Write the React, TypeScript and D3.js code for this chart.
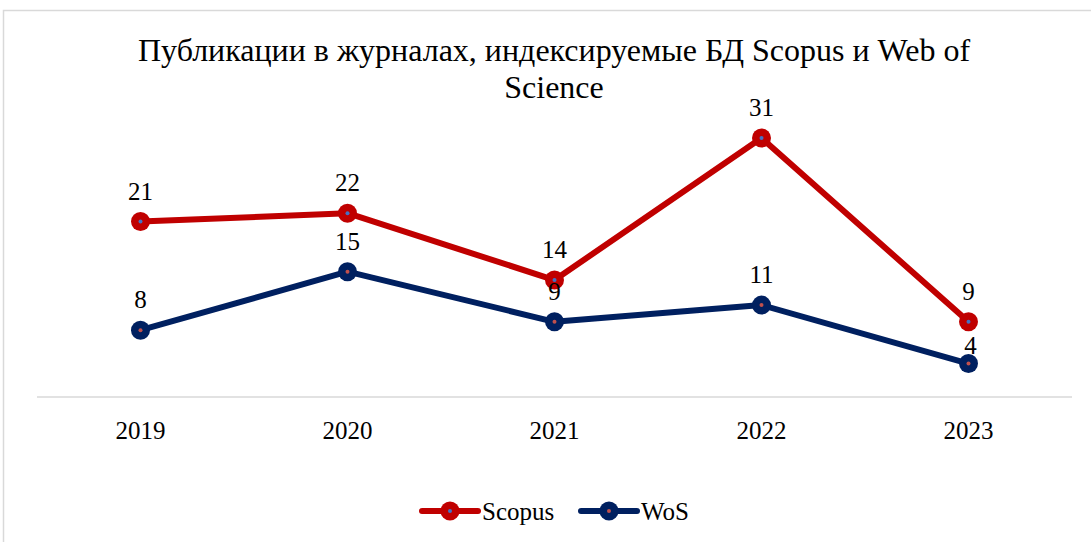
import * as d3 from "d3";

const years = ["2019", "2020", "2021", "2022", "2023"];
const scopus = [21, 22, 14, 31, 9];
const wos = [8, 15, 9, 11, 4];
const seriesNames = ["Scopus", "WoS"];

const W = 1091;
const H = 542;
const font = "Liberation Serif, Tinos, DejaVu Serif, serif";

export default function App() {
  const x = d3.scaleBand().domain(years).range([37, 1072]);
  const y = d3.scaleLinear().domain([0, 31]).range([397, 138]);
  const cx = (d: string) => (x(d) ?? 0) + x.bandwidth() / 2;

  const line = d3
    .line<number>()
    .x((_, i) => cx(years[i]))
    .y((d) => y(d));

  const series = [
    { name: seriesNames[0], values: scopus, color: "#c00000", dot: "#4472c4" },
    { name: seriesNames[1], values: wos, color: "#002060", dot: "#c0504d" },
  ];

  return (
    <svg
      width={W}
      height={H}
      style={{ position: "absolute", left: 0, top: 0, background: "#fff", fontFamily: font }}
    >
      <rect x={3.5} y={10.5} width={W + 10} height={H + 10} fill="#fff" stroke="#d9d9d9" strokeWidth={1.5} />
      <text x={554} y={61} textAnchor="middle" fontSize={32} fill="#000">
        Публикации в журналах, индексируемые БД Scopus и Web of
      </text>
      <text x={554} y={98} textAnchor="middle" fontSize={32} fill="#000">
        Science
      </text>

      <line x1={37} x2={1072} y1={397} y2={397} stroke="#d9d9d9" strokeWidth={1.5} />
      {years.map((yr) => (
        <text key={yr} x={cx(yr)} y={439} textAnchor="middle" fontSize={25} fill="#000">
          {yr}
        </text>
      ))}

      {series.map((s) => (
        <g key={s.name}>
          <path d={line(s.values) ?? ""} fill="none" stroke={s.color} strokeWidth={6} strokeLinejoin="round" />
          {s.values.map((v, i) => (
            <g key={i}>
              <circle cx={cx(years[i])} cy={y(v)} r={9.5} fill={s.color} />
              <circle cx={cx(years[i])} cy={y(v)} r={2} fill={s.dot} />
            </g>
          ))}
        </g>
      ))}
      {series.map((s) =>
        s.values.map((v, i) => {
          const last = i === 4 && s.name === "WoS";
          return (
            <text
              key={s.name + i}
              x={cx(years[i]) + (last ? 2 : 0)}
              y={y(v) - (last ? 10 : 22)}
              textAnchor="middle"
              fontSize={25}
              fill="#000"
            >
              {v}
            </text>
          );
        })
      )}

      {series.map((s, i) => {
        const lx = [422, 581][i];
        return (
          <g key={s.name}>
            <line x1={lx} x2={lx + 56} y1={511} y2={511} stroke={s.color} strokeWidth={6} strokeLinecap="round" />
            <circle cx={lx + 28} cy={511} r={9.5} fill={s.color} />
            <circle cx={lx + 28} cy={511} r={2} fill={s.dot} />
            <text x={lx + 60} y={520} fontSize={25} fill="#000">
              {s.name}
            </text>
          </g>
        );
      })}
    </svg>
  );
}
